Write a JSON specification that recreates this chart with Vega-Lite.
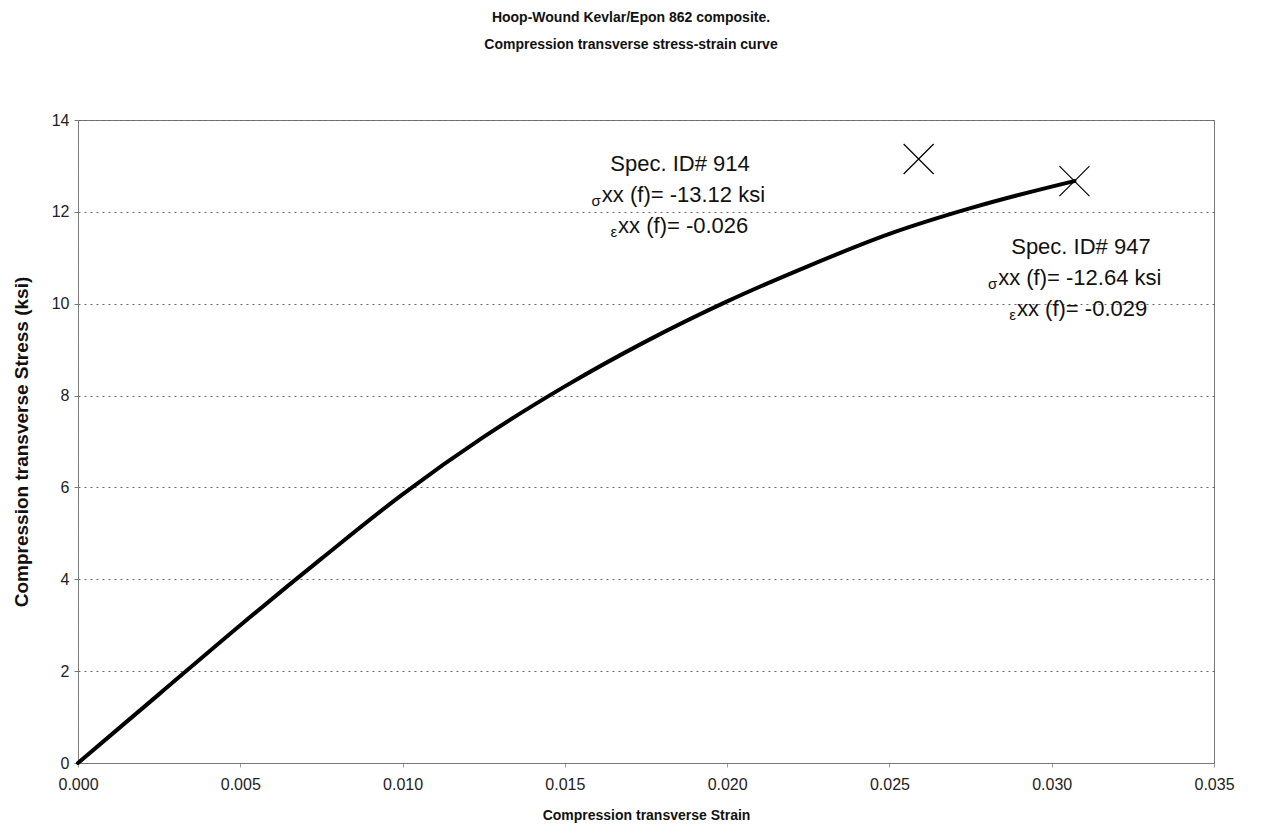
{
  "$schema": "https://vega.github.io/schema/vega-lite/v6.json",
  "autosize": "none",
  "width": 1136,
  "height": 643,
  "padding": {"left": 78, "top": 120, "right": 49, "bottom": 63},
  "background": "white",
  "config": {
    "font": "Liberation Sans",
    "view": {"stroke": "#777", "strokeWidth": 1}
  },
  "title": {
    "text": ["Hoop-Wound Kevlar/Epon 862 composite.", "Compression transverse stress-strain curve"],
    "font": "Liberation Sans",
    "fontSize": 14,
    "fontWeight": "bold",
    "color": "#111",
    "lineHeight": 27,
    "offset": 60,
    "dx": -15,
    "anchor": "middle"
  },
  "datasets": {
    "curve": [
      {"strain": 0, "stress": 0},
      {"strain": 0.0025, "stress": 1.5},
      {"strain": 0.005, "stress": 3.0},
      {"strain": 0.0075, "stress": 4.45},
      {"strain": 0.01, "stress": 5.85},
      {"strain": 0.0125, "stress": 7.1},
      {"strain": 0.015, "stress": 8.2},
      {"strain": 0.0175, "stress": 9.18},
      {"strain": 0.02, "stress": 10.05},
      {"strain": 0.0225, "stress": 10.82},
      {"strain": 0.025, "stress": 11.52},
      {"strain": 0.0275, "stress": 12.08},
      {"strain": 0.03, "stress": 12.55},
      {"strain": 0.0307, "stress": 12.67}
    ],
    "failures": [
      {"strain": 0.0259, "stress": 13.15, "spec": "914"},
      {"strain": 0.0307, "stress": 12.67, "spec": "947"}
    ],
    "heads": [
      {"strain": 0.01855, "stress": 12.9, "text": "Spec. ID# 914"},
      {"strain": 0.0309, "stress": 11.08, "text": "Spec. ID# 947"}
    ],
    "lines": [
      {"strain": 0.01614, "stress": 12.22, "sym": "σ", "text": "xx (f)= -13.12 ksi"},
      {"strain": 0.01664, "stress": 11.54, "sym": "ε", "text": "xx (f)= -0.026"},
      {"strain": 0.02835, "stress": 10.41, "sym": "σ", "text": "xx (f)= -12.64 ksi"},
      {"strain": 0.02893, "stress": 9.73, "sym": "ε", "text": "xx (f)= -0.029"}
    ]
  },
  "layer": [
    {
      "data": {"name": "curve"},
      "mark": {"type": "line", "color": "black", "strokeWidth": 4, "interpolate": "monotone", "strokeCap": "round"},
      "encoding": {
        "x": {
          "field": "strain", "type": "quantitative",
          "scale": {"domain": [0, 0.035], "nice": false, "zero": true},
          "axis": {
            "title": "Compression transverse Strain",
            "titleFont": "Liberation Sans", "titleFontSize": 14, "titleFontWeight": "bold", "titleColor": "#111",
            "titlePadding": 16,
            "values": [0, 0.005, 0.01, 0.015, 0.02, 0.025, 0.03, 0.035],
            "format": ".3f",
            "labelFlush": false,
            "labelFont": "Liberation Sans", "labelFontSize": 16, "labelColor": "#222",
            "labelPadding": 9,
            "grid": false,
            "domainColor": "#777",
            "tickColor": "#999", "tickSize": 4
          }
        },
        "y": {
          "field": "stress", "type": "quantitative",
          "scale": {"domain": [0, 14], "nice": false},
          "axis": {
            "title": "Compression transverse Stress (ksi)",
            "titleFont": "Liberation Sans", "titleFontSize": 19, "titleFontWeight": "bold", "titleColor": "#111",
            "titlePadding": 20,
            "values": [0, 2, 4, 6, 8, 10, 12, 14],
            "labelFlush": false,
            "labelFont": "Liberation Sans", "labelFontSize": 16, "labelColor": "#222",
            "labelPadding": 5,
            "grid": true, "gridColor": "#666", "gridDash": [2, 4], "gridWidth": 1,
            "domainColor": "#888", "domainDash": [1, 2],
            "tickColor": "#777", "tickSize": 4
          }
        }
      }
    },
    {
      "data": {"name": "failures"},
      "mark": {"type": "point", "shape": "M-1,-1L1,1M-1,1L1,-1", "size": 900, "filled": false, "stroke": "black", "strokeWidth": 1.2, "opacity": 1},
      "encoding": {
        "x": {"field": "strain", "type": "quantitative"},
        "y": {"field": "stress", "type": "quantitative"}
      }
    },
    {
      "data": {"name": "heads"},
      "mark": {"type": "text", "align": "center", "baseline": "alphabetic", "fontSize": 22, "font": "Liberation Sans", "color": "#111"},
      "encoding": {
        "x": {"field": "strain", "type": "quantitative"},
        "y": {"field": "stress", "type": "quantitative"},
        "text": {"field": "text"}
      }
    },
    {
      "data": {"name": "lines"},
      "mark": {"type": "text", "align": "left", "baseline": "alphabetic", "fontSize": 22, "font": "Liberation Sans", "color": "#111"},
      "encoding": {
        "x": {"field": "strain", "type": "quantitative"},
        "y": {"field": "stress", "type": "quantitative"},
        "text": {"field": "text"}
      }
    },
    {
      "data": {"name": "lines"},
      "mark": {"type": "text", "align": "right", "baseline": "alphabetic", "fontSize": 15, "dy": 4, "dx": -1, "font": "Liberation Sans", "color": "#111"},
      "encoding": {
        "x": {"field": "strain", "type": "quantitative"},
        "y": {"field": "stress", "type": "quantitative"},
        "text": {"field": "sym"}
      }
    }
  ]
}
